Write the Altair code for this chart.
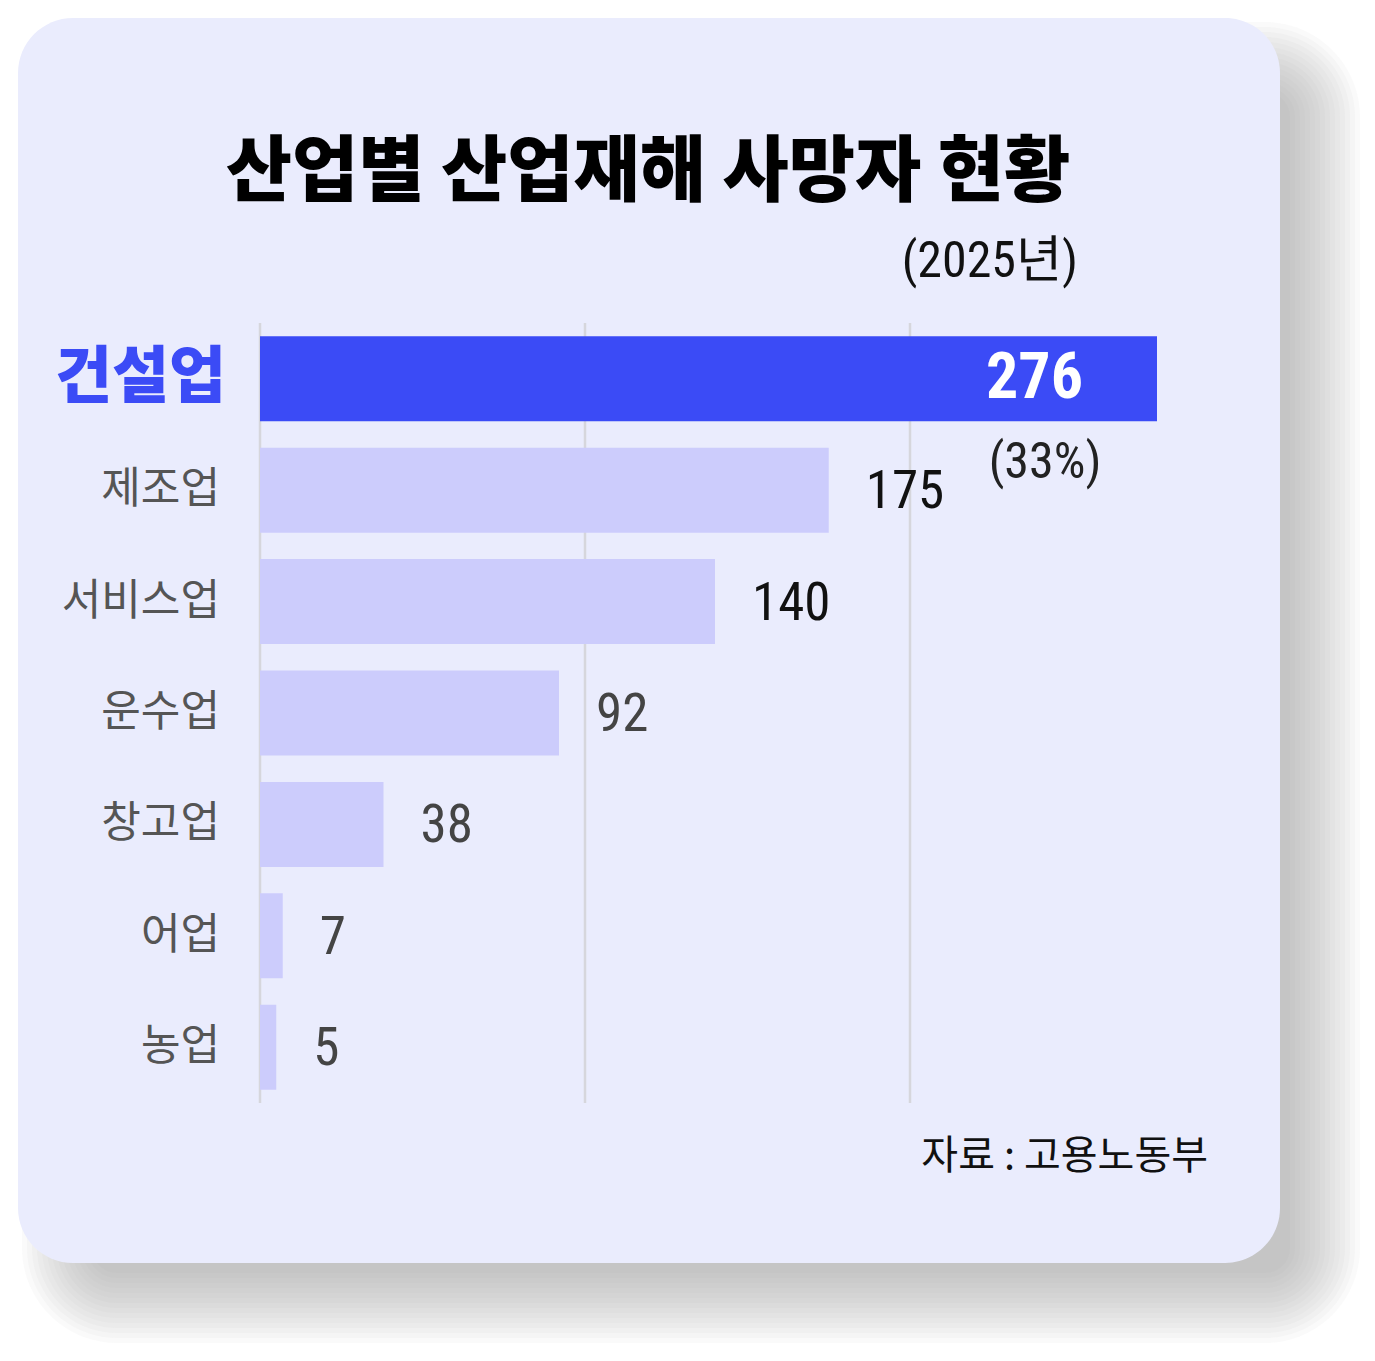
import altair as alt
import pandas as pd

# ---- data ----
categories = ["건설업", "제조업", "서비스업", "운수업", "창고업", "어업", "농업"]
deaths = [276, 175, 140, 92, 38, 7, 5]
grid_values = [0, 100, 200]
title_text = "산업별 산업재해 사망자 현황"
subtitle_text = "(2025년)"
share_text = "(33%)"
source_text = "자료 : 고용노동부"
highlight = "건설업"

df = pd.DataFrame({"industry": categories, "deaths": deaths})
grid_df = pd.DataFrame({"v": grid_values})
one = pd.DataFrame({"k": [0]})

KR = "Noto Sans CJK KR"
NUM = "Liberation Sans Narrow, Roboto Condensed, Noto Sans CJK KR"

W, H = 975, 780
# card position relative to plot origin
CX0, CX1, CY0, CY1 = -242, 1020, -305, 940

x_enc = alt.X("deaths:Q", axis=None,
              scale=alt.Scale(domain=[0, 300], nice=False, zero=True))
y_enc = alt.Y("industry:N", sort=categories, axis=None,
              scale=alt.Scale(paddingInner=0.237, paddingOuter=0.1185))

layers = []

# shadow (stack of soft translucent rounded rects)
for s in range(-30, 41, 5):
    layers.append(
        alt.Chart(one).mark_rect(color="#9a9a9a", opacity=0.05,
                                 cornerRadius=max(55 + s, 5)).encode(
            x=alt.value(CX0 + 44 - s), x2=alt.value(CX1 + 40 + s),
            y=alt.value(CY0 + 44 - s), y2=alt.value(CY1 + 40 + s))
    )

# card
layers.append(
    alt.Chart(one).mark_rect(color="#EAECFD", cornerRadius=55).encode(
        x=alt.value(CX0), x2=alt.value(CX1), y=alt.value(CY0), y2=alt.value(CY1))
)

# grid lines
layers.append(
    alt.Chart(grid_df).mark_rule(color="#D6D6DC", strokeWidth=2.5).encode(
        x=alt.X("v:Q", axis=None, scale=alt.Scale(domain=[0, 300], nice=False, zero=True)))
)

base = alt.Chart(df)

bars = base.mark_bar().encode(
    x=x_enc, y=y_enc,
    color=alt.condition(alt.datum.industry == highlight,
                        alt.value("#3B4BF6"), alt.value("#CCCCFC")),
)
layers.append(bars)

top_val = base.transform_filter(alt.datum.industry == highlight).mark_text(
    align="right", baseline="middle", dx=-74, font=NUM, fontSize=64,
    fontWeight="bold", color="#ffffff").encode(x=x_enc, y=y_enc, text="deaths:Q")
layers.append(top_val)

top_share = base.transform_filter(alt.datum.industry == highlight).mark_text(
    align="center", baseline="middle", dx=-112, dy=84, font=NUM, fontSize=50,
    color="#222222").encode(x=x_enc, y=y_enc, text=alt.value(share_text))
layers.append(top_share)

other_vals = base.transform_filter(alt.datum.industry != highlight).mark_text(
    align="left", baseline="middle", dx=37, dy=2, font=NUM, fontSize=53).encode(
    x=x_enc, y=y_enc, text="deaths:Q",
    color=alt.condition(alt.datum.deaths >= 100, alt.value("#111111"), alt.value("#444444")))
layers.append(other_vals)

cat_hl = base.transform_filter(alt.datum.industry == highlight).mark_text(
    align="right", baseline="middle", font=KR, fontSize=62, fontWeight=900,
    color="#3B4BF6").encode(x=alt.value(-34), y=y_enc, text="industry:N")
layers.append(cat_hl)

cat_other = base.transform_filter(alt.datum.industry != highlight).mark_text(
    align="right", baseline="middle", font=KR, fontSize=43,
    color="#555555").encode(x=alt.value(-40), y=y_enc, text="industry:N")
layers.append(cat_other)

# title, subtitle, source
layers.append(alt.Chart(one).mark_text(
    align="center", baseline="middle", font=KR, fontSize=72, fontWeight=900,
    color="#000000").encode(x=alt.value(388), y=alt.value(-150), text=alt.value(title_text)))
layers.append(alt.Chart(one).mark_text(
    align="right", baseline="middle", font=NUM, fontSize=50,
    color="#111111").encode(x=alt.value(818), y=alt.value(-61), text=alt.value(subtitle_text)))
layers.append(alt.Chart(one).mark_text(
    align="right", baseline="middle", font=KR, fontSize=40,
    color="#111111").encode(x=alt.value(948), y=alt.value(834), text=alt.value(source_text)))

chart = alt.layer(*layers).properties(
    width=W, height=H,
    padding={"left": 252, "top": 315, "right": 132, "bottom": 240},
    autosize=alt.AutoSizeParams(type="none"),
    background="#ffffff",
).configure_view(stroke=None, fill=None)

chart.save("out.html", embed_options={"renderer": "svg", "actions": False})
